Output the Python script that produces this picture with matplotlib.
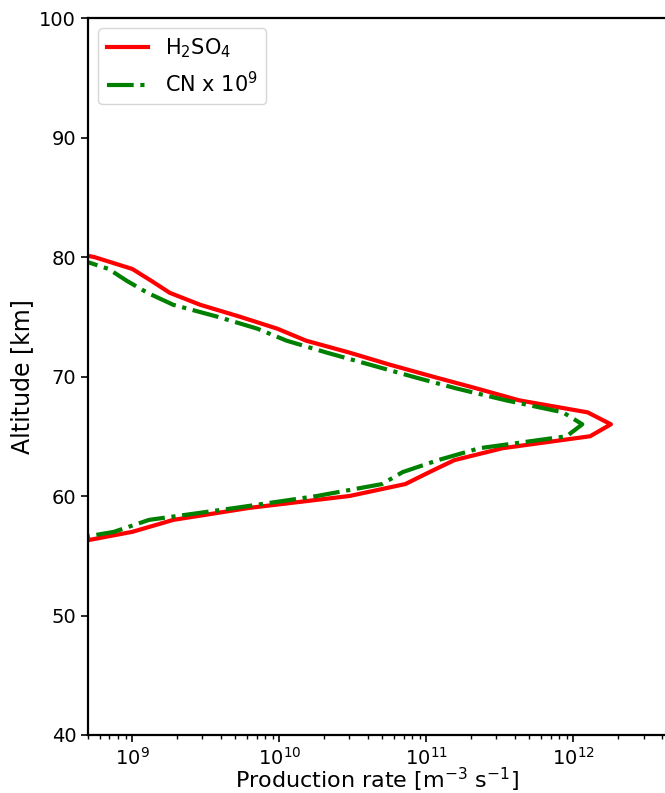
import matplotlib
matplotlib.use("Agg")
import matplotlib.pyplot as plt

alt_h2so4 = [81, 80, 79, 78, 77, 76, 75, 74, 73, 72, 71, 70, 69, 68, 67, 66, 65, 64, 63, 62, 61, 60, 59, 58, 57, 56]
rate_h2so4 = [2e8, 5.5e8, 1.0e9, 1.35e9, 1.8e9, 2.9e9, 5.4e9, 9.7e9, 1.52e10, 3.0e10, 5.6e10, 1.1e11, 2.2e11,
              4.3e11, 1.25e12, 1.8e12, 1.3e12, 3.3e11, 1.55e11, 1.05e11, 7.2e10, 3.0e10, 6.2e9, 1.9e9, 1.0e9, 3.7e8]

alt_cn = [80, 79, 78, 77, 76, 75, 74, 73, 72, 71, 70, 69, 68, 67, 66, 65, 64, 63, 62, 61, 60, 59, 58, 57, 56]
rate_cn = [3.9e8, 6.9e8, 9.2e8, 1.27e9, 1.9e9, 3.8e9, 7.1e9, 1.12e10, 2.1e10, 4.1e10, 8.0e10, 1.6e11, 3.5e11,
           8.5e11, 1.15e12, 9.0e11, 2.3e11, 1.2e11, 6.9e10, 5.0e10, 1.8e10, 5.0e9, 1.3e9, 7.5e8, 2.5e8]

W, H = 665, 793
fig = plt.figure(figsize=(W / 100, H / 100), dpi=100)
left = 88 / W
bottom = (H - 735) / H
height = (735 - 18) / H
width = (665 - 88) / W
ax = fig.add_axes([left, bottom, width, height])

ax.plot(rate_h2so4, alt_h2so4, color='red', lw=3, label='H$_2$SO$_4$')
ax.plot(rate_cn, alt_cn, color='green', lw=3, ls='-.', label='CN x 10$^9$')

ax.set_xscale('log')
ax.set_xlim(5e8, 4.2e12)
ax.set_ylim(40, 100)
ax.set_xlabel('Production rate [m$^{-3}$ s$^{-1}$]', fontsize=16, labelpad=-2)
ax.set_ylabel('Altitude [km]', fontsize=17)
ax.tick_params(axis='both', which='major', labelsize=14, width=1.2, length=5)
ax.tick_params(axis='both', which='minor', width=1.0, length=3)
for s in ax.spines.values():
    s.set_linewidth(1.6)
ax.spines['right'].set_visible(False)
ax.legend(loc='upper left', fontsize=15)

fig.savefig('out.png', dpi=100)
